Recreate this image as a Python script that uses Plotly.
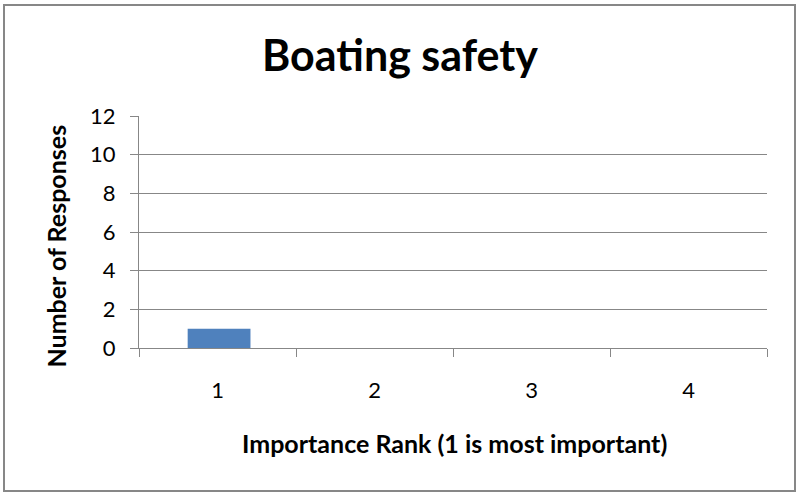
import plotly.graph_objects as go

categories = ["1", "2", "3", "4"]
responses = [1, 0, 0, 0]
y_ticks = [0, 2, 4, 6, 8, 10, 12]

W, H = 797, 493
L, R, T, B = 139, 30, 116, 145
PW, PH = W - L - R, H - T - B

def px(x):
    return (x - L) / PW

def py(y):
    return (H - B - y) / PH

FONT = "Lato, Carlito, Calibri, sans-serif"
GRAY = "#878787"

fig = go.Figure()
fig.add_trace(go.Bar(x=categories, y=responses, marker=dict(color="#4F81BD", line=dict(width=0)),
                     width=0.4, offset=-0.19, showlegend=False))

fig.update_layout(
    width=W, height=H,
    margin=dict(l=L, r=R, t=T, b=B),
    paper_bgcolor="white", plot_bgcolor="white",
    font=dict(family=FONT, color="black"),
    title=dict(text="<b>Boating safety</b>", font=dict(size=43, family=FONT, color="black"),
               x=400 / W, xanchor="center", xref="container", y=1 - 56 / H, yanchor="middle", yref="container"),
    xaxis=dict(type="category", categoryorder="array", categoryarray=categories,
               showline=True, linecolor=GRAY, linewidth=1,
               ticks="outside", tickson="boundaries", ticklen=8, tickcolor=GRAY, tickwidth=1,
               tickfont=dict(size=22, family=FONT), ticklabelstandoff=23,
               showgrid=False, zeroline=False, automargin=False),
    yaxis=dict(range=[0, 12], tickvals=y_ticks, showline=True, linecolor=GRAY, linewidth=1,
               ticks="outside", ticklen=8, tickcolor=GRAY, tickwidth=1,
               tickfont=dict(size=22, family=FONT), ticklabelstandoff=10,
               showgrid=True, gridcolor=GRAY, gridwidth=1, zeroline=False, automargin=False),
)

fig.add_annotation(text="<b>Number of Responses</b>", xref="paper", yref="paper",
                   x=px(55), y=py(246.5), xanchor="center", yanchor="middle", textangle=-90,
                   showarrow=False, font=dict(size=25, family=FONT, color="black"))
fig.add_annotation(text="<b>Importance Rank (1 is most important)</b>", xref="paper", yref="paper",
                   x=px(454), y=py(443), xanchor="center", yanchor="middle",
                   showarrow=False, font=dict(size=25, family=FONT, color="black"))

fig.add_shape(type="rect", xref="paper", yref="paper", x0=px(4), x1=px(795), y0=py(491), y1=py(5),
              line=dict(color=GRAY, width=2), fillcolor="rgba(0,0,0,0)", layer="below")

fig.write_html("out.html")
